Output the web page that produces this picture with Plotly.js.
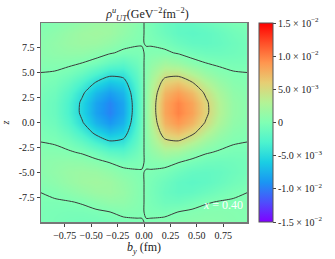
<!DOCTYPE html>
<html>
<head>
<meta charset="utf-8">
<script src="https://cdn.plot.ly/plotly-3.0.1.min.js"></script>
<style>html,body{margin:0;padding:0;background:#fff;}#chart{width:335px;height:259px;}</style>
</head>
<body>
<div id="chart"></div>
<script>
// b_y positions (fm)
var bY = [-0.975,-0.845,-0.715,-0.585,-0.455,-0.325,-0.195,-0.065,-0.02,0.02,0.065,0.195,0.325,0.455,0.585,0.715,0.845,0.975];
// z positions
var zPos = [-10,-9,-8,-7,-6,-5,-4,-3,-2,-1,0,1,2,3,4,5,6,7,8,9,10];
// rho_UT^u in units of 1e-4 GeV^-2 fm^-2 (rows follow zPos, columns follow bY)
var rho1e4 = [
 [-2.6,-4.2,-5.8,-6.9,-6.5,-4.5,-3.0,-1.0,-0.3, 0.3,1.0,3.0,4.5,6.5,6.9,5.8,4.2,2.6],
 [-2.6,-3.5,-4.2,-4.0,-2.5,-0.2,2.9,1.6,0.5, -0.5,-1.6,-2.9,0.2,2.5,4.0,4.2,3.5,2.6],
 [-1.6,-1.5,-0.9,1.2,6.3,10.5,9.9,3.9,1.2, -1.2,-3.9,-9.9,-10.5,-6.3,-1.2,0.9,1.5,1.6],
 [0.1,2.6,6.8,11.9,16.4,17.4,13.0,4.7,1.5, -1.5,-4.7,-13.0,-17.4,-16.4,-11.9,-6.8,-2.6,-0.1],
 [4.0,8.2,13.3,17.9,20.0,17.4,10.9,3.7,1.1, -1.1,-3.7,-10.9,-17.4,-20.0,-17.9,-13.3,-8.2,-4.0],
 [6.5,10.6,14.6,16.8,15.6,10.5,4.5,1.2,0.4, -0.4,-1.2,-4.5,-10.5,-15.6,-16.8,-14.6,-10.6,-6.5],
 [6.5,8.9,10.2,9.0,5.1,-0.5,-5.4,-2.9,-0.9, 0.9,2.9,5.4,0.5,-5.1,-9.0,-10.2,-8.9,-6.5],
 [4.0,3.9,1.9,-1.7,-9.5,-20.6,-23.4,-9.9,-3.1, 3.1,9.9,23.4,20.6,9.5,1.7,-1.9,-3.9,-4.0],
 [0.1,-1.2,-6.1,-16.9,-32.7,-46.2,-43.4,-17.6,-5.5, 5.5,17.6,43.4,46.2,32.7,16.9,6.1,1.2,-0.1],
 [-2.4,-5.9,-16.2,-34.1,-55.9,-70.5,-61.5,-24.4,-7.6, 7.6,24.4,61.5,70.5,55.9,34.1,16.2,5.9,2.4],
 [-5.1,-10.4,-24.9,-48.1,-74.1,-88.7,-74.9,-29.5,-9.1, 9.1,29.5,74.9,88.7,74.1,48.1,24.9,10.4,5.1],
 [-6.8,-12.9,-29.6,-55.4,-83.6,-98.1,-81.9,-32.2,-10.0, 10.0,32.2,81.9,98.1,83.6,55.4,29.6,12.9,6.8],
 [-6.8,-12.8,-29.2,-54.5,-82.4,-97.0,-81.4,-32.1,-10.0, 10.0,32.1,81.4,97.0,82.4,54.5,29.2,12.8,6.8],
 [-5.1,-10.0,-23.7,-45.7,-71.2,-85.7,-73.4,-29.3,-9.1, 9.1,29.3,73.4,85.7,71.2,45.7,23.7,10.0,5.1],
 [-2.4,-5.4,-14.7,-30.9,-51.6,-65.9,-59.0,-24.1,-7.5, 7.5,24.1,59.0,65.9,51.6,30.9,14.7,5.4,2.4],
 [-0.1,-0.9,-4.7,-13.5,-27.9,-41.0,-40.3,-17.2,-5.3, 5.3,17.2,40.3,41.0,27.9,13.5,4.7,0.9,0.1],
 [3.9,4.3,3.1,0.1,-5.7,-15.7,-20.4,-9.6,-3.0, 3.0,9.6,20.4,15.7,5.7,-0.1,-3.1,-4.3,-3.9],
 [6.4,9.1,10.8,10.5,7.1,1.7,-3.1,-2.6,-0.8, 0.8,2.6,3.1,-1.7,-7.1,-10.5,-10.8,-9.1,-6.4],
 [6.6,10.6,14.6,17.2,16.5,11.7,5.3,1.3,0.4, -0.4,-1.3,-5.3,-11.7,-16.5,-17.2,-14.6,-10.6,-6.6],
 [4.5,8.3,13.3,17.9,20.0,17.6,11.1,3.6,1.1, -1.1,-3.6,-11.1,-17.6,-20.0,-17.9,-13.3,-8.3,-4.5],
 [0.8,3.2,7.3,12.2,16.5,17.3,13.0,4.7,1.5, -1.5,-4.7,-13.0,-17.3,-16.5,-12.2,-7.3,-3.2,-0.8]
];
var contourLevels = [-50, 0, 50];
var cbTickVals = [-150,-100,-50,0,50,100,150];
var cbTickText = ['-1.5 × 10<sup>−2</sup>','-1.0 × 10<sup>−2</sup>','-5.0 × 10<sup>−3</sup>','0','5.0 × 10<sup>−3</sup>','1.0 × 10<sup>−2</sup>','1.5 × 10<sup>−2</sup>'];
var xTickVals = [-0.75,-0.5,-0.25,0,0.25,0.5,0.75];
var xTickText = ['−0.75','−0.50','−0.25','0.00','0.25','0.50','0.75'];
var yTickVals = [-7.5,-5,-2.5,0,2.5,5,7.5];
var yTickText = ['-7.5','-5.0','-2.5','0.0','2.5','5.0','7.5'];

var rainbow = [
 [0.0,'rgb(128,0,255)'],[0.1,'rgb(77,79,252)'],[0.2,'rgb(26,150,243)'],[0.3,'rgb(26,206,227)'],
 [0.4,'rgb(77,243,206)'],[0.5,'rgb(128,255,180)'],[0.6,'rgb(179,243,150)'],[0.7,'rgb(230,206,116)'],
 [0.8,'rgb(255,150,79)'],[0.9,'rgb(255,79,40)'],[1.0,'rgb(255,0,0)']
];
var serif = "'Liberation Serif', serif";

var heat = {
  type:'heatmap', x:bY, y:zPos, z:rho1e4, zsmooth:'best',
  colorscale:rainbow, zmin:-150, zmax:150, hoverinfo:'skip',
  colorbar:{
    x:1.056, xanchor:'left', xpad:0, ypad:0, thickness:14, len:1, lenmode:'fraction',
    y:0.5, yanchor:'middle', outlinewidth:1, outlinecolor:'#555',
    tickvals:cbTickVals, ticktext:cbTickText, ticks:'outside', ticklen:3, tickcolor:'#444',
    tickfont:{family:serif, size:10, color:'#222'}
  }
};
var lines = {
  type:'contour', x:bY, y:zPos, z:rho1e4, showscale:false, hoverinfo:'skip',
  autocontour:false,
  contours:{start:contourLevels[0], end:contourLevels[2], size:contourLevels[1]-contourLevels[0], coloring:'none'},
  line:{color:'#3a3a3a', width:1, smoothing:0.7}
};

var layout = {
  width:335, height:259,
  margin:{l:41, r:80, t:23, b:37},
  paper_bgcolor:'#fff', plot_bgcolor:'#fff',
  font:{family:serif, size:10, color:'#222'},
  title:{text:'<i>ρ</i><sup><i>u</i></sup><sub><i>UT</i></sub>(GeV<sup>−2</sup>fm<sup>−2</sup>)', x:0.44, xanchor:'center', y:0.945, yanchor:'middle', font:{family:serif, size:12, color:'#222'}},
  xaxis:{range:[-0.975,0.975], tickvals:xTickVals, ticktext:xTickText, ticks:'outside', ticklen:3, tickcolor:'#444',
    showline:true, mirror:true, linecolor:'#777', linewidth:1.5, showgrid:false, zeroline:false,
    tickfont:{family:serif, size:10},
    title:{text:'<i>b</i><sub><i>y</i></sub> (fm)', font:{family:serif, size:12}, standoff:1}},
  yaxis:{range:[-10,10], tickvals:yTickVals, ticktext:yTickText, ticks:'outside', ticklen:3, tickcolor:'#444',
    showline:true, mirror:true, linecolor:'#777', linewidth:1.5, showgrid:false, zeroline:false,
    tickfont:{family:serif, size:10},
    title:{text:'<i>z</i>', font:{family:serif, size:10}, standoff:8}},
  annotations:[{x:0.745, y:-8.3, xref:'x', yref:'y', text:'<i>x</i> = 0.40', showarrow:false,
    font:{family:serif, size:12, color:'#fff'}}]
};
Plotly.newPlot('chart', [heat, lines], layout, {staticPlot:true, displayModeBar:false});
</script>
</body>
</html>
